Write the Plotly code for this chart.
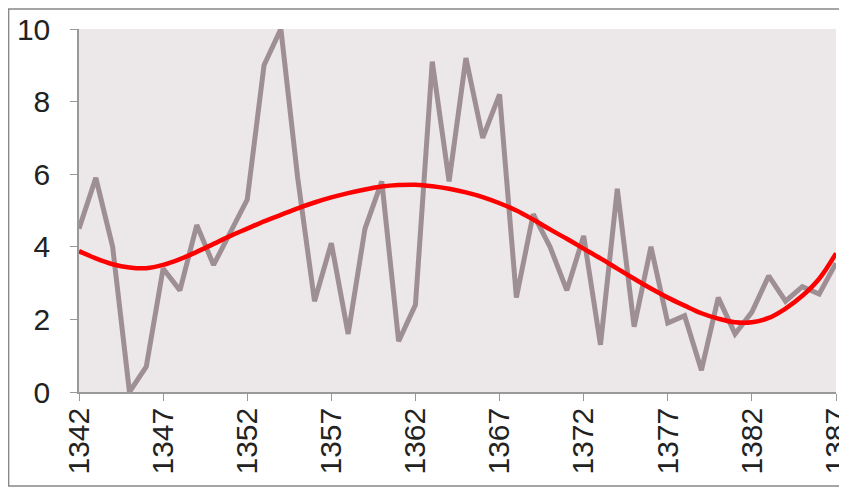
import plotly.graph_objects as go

# Años de la serie
anios = list(range(1342, 1388))

# Valores anuales (línea gris)
valores = [
    4.5, 5.9, 4.0, 0.0, 0.7, 3.4, 2.8, 4.6, 3.5, 4.4,
    5.3, 9.0, 10.0, 5.9, 2.5, 4.1, 1.6, 4.5, 5.8, 1.4,
    2.4, 9.1, 5.8, 9.2, 7.0, 8.2, 2.6, 4.9, 4.0, 2.8,
    4.3, 1.3, 5.6, 1.8, 4.0, 1.9, 2.1, 0.6, 2.6, 1.6,
    2.2, 3.2, 2.5, 2.9, 2.7, 3.55,
]

# Línea de tendencia (roja)
tendencia = [
    3.88, 3.68, 3.52, 3.43, 3.41, 3.50, 3.66, 3.86, 4.08, 4.30,
    4.50, 4.70, 4.88, 5.06, 5.22, 5.36, 5.48, 5.58, 5.66, 5.70,
    5.71, 5.67, 5.60, 5.50, 5.37, 5.20, 5.00, 4.75, 4.48, 4.22,
    3.95, 3.68, 3.40, 3.12, 2.85, 2.60, 2.38, 2.17, 2.02, 1.92,
    1.92, 2.04, 2.30, 2.65, 3.12, 3.82,
]

ticks_x = list(range(1342, 1388, 5))
ticks_y = [0, 2, 4, 6, 8, 10]

fig = go.Figure()

fig.add_trace(
    go.Scatter(
        x=anios,
        y=valores,
        mode="lines",
        line=dict(color="#9E8F94", width=5),
        showlegend=False,
    )
)

fig.add_trace(
    go.Scatter(
        x=anios,
        y=tendencia,
        mode="lines",
        line=dict(color="#FF0000", width=4.5, shape="spline"),
        showlegend=False,
    )
)

fig.update_xaxes(
    range=[1342, 1387],
    tickvals=ticks_x,
    tickangle=-90,
    ticks="outside",
    ticklen=7,
    tickcolor="#999999",
    ticklabelstandoff=-5,
    ticklabeloverflow="allow",
    automargin=False,
    showline=True,
    linecolor="#999999",
    linewidth=1.5,
    showgrid=False,
    zeroline=False,
)

fig.update_yaxes(
    range=[0, 10],
    tickvals=ticks_y,
    ticks="outside",
    ticklen=7,
    tickcolor="#999999",
    ticklabelstandoff=14,
    automargin=False,
    showline=True,
    linecolor="#999999",
    linewidth=1.5,
    showgrid=False,
    zeroline=False,
)

# La página deja 8 px de margen arriba y a la izquierda, así que se compensa aquí.
fig.update_layout(
    width=839,
    height=479,
    margin={"l": 71, "r": 11, "t": 21, "b": 95},
    plot_bgcolor="#ECE7E9",
    paper_bgcolor="#FFFFFF",
    font_family="Liberation Sans, Arial",
    font_color="#222222",
    font_size=30,
    shapes=[
        dict(
            type="rect",
            xref="paper",
            yref="paper",
            x0=-0.093,
            x1=1.0135,
            y0=-0.259,
            y1=1.055,
            line=dict(color="#888888", width=1.5),
        )
    ],
)

fig.write_html("out.html")
